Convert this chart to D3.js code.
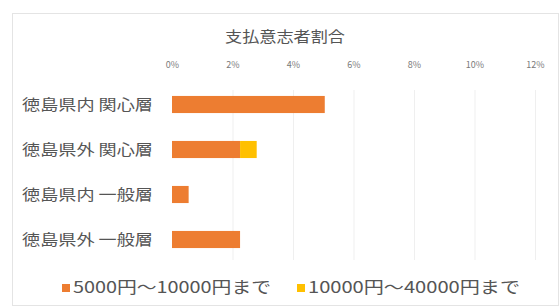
<!DOCTYPE html>
<html><head><meta charset="utf-8">
<script src="https://cdn.jsdelivr.net/npm/d3@7"></script>
<style>body{margin:0;background:#fff}svg{display:block}</style>
</head><body>
<svg id="c" width="559" height="306"></svg>
<script>
const categories = ["徳島県内 関心層","徳島県外 関心層","徳島県内 一般層","徳島県外 一般層"];
const seriesNames = ["5000円～10000円まで","10000円～40000円まで"];
const s1 = [5.05, 2.25, 0.55, 2.25];
const s2 = [0, 0.55, 0, 0];
const tickValues = [0,2,4,6,8,10,12];
const colors = ["#ED7D31","#FFC000"];
const title = "支払意志者割合";

const svg = d3.select("#c");
const font = "'Noto Sans CJK JP','Noto Sans',sans-serif";
svg.append("rect").attr("x",12.5).attr("y",13.5).attr("width",546).attr("height",292)
  .attr("fill","#fff").attr("stroke","#e4e4e4");
const x = d3.scaleLinear().domain([0,12]).range([172,535]);
const y = d3.scaleBand().domain(categories).range([82,262]).paddingInner(0.62).paddingOuter(0.31);

svg.append("text").attr("x",285).attr("y",37).attr("dy","0.35em").attr("text-anchor","middle")
  .attr("font-family",font).attr("font-size",15).attr("fill","#555")
  .attr("textLength",120).attr("lengthAdjust","spacingAndGlyphs").text(title);

const grid = svg.append("g");
grid.selectAll("line").data(tickValues.slice(1)).join("line")
  .attr("x1",d=>x(d)+0.5).attr("x2",d=>x(d)+0.5).attr("y1",90).attr("y2",260)
  .attr("stroke","#efefef");

const ax = svg.append("g").attr("transform","translate(0,71)")
  .call(d3.axisTop(x).tickValues(tickValues).tickFormat(d=>d+"%").tickSize(0));
ax.select(".domain").remove();
ax.selectAll("text").attr("font-family",font).attr("font-size",9).attr("fill","#7a7a7a");

const stack = categories.map((c,i)=>({c, v:[s1[i], s2[i]]}));
stack.forEach(d=>{
  let acc=0;
  d.v.forEach((v,j)=>{
    if(v>0){
      svg.append("rect").attr("x",x(acc)).attr("width",x(acc+v)-x(acc))
        .attr("y",y(d.c)).attr("height",y.bandwidth()).attr("fill",colors[j]);
    }
    acc+=v;
  });
});

svg.append("g").selectAll("text").data(categories).join("text")
  .attr("x",22).attr("y",d=>y(d)+y.bandwidth()/2).attr("dy","0.35em")
  .attr("font-family",font).attr("font-size",15)
  .attr("textLength",131).attr("lengthAdjust","spacingAndGlyphs")
  .attr("fill","#555").text(d=>d);

const lg = svg.append("g");
const lx = [62, 297];
const lw = [198, 212];
seriesNames.forEach((n,i)=>{
  lg.append("rect").attr("x",lx[i]).attr("y",284).attr("width",8).attr("height",8).attr("fill",colors[i]);
  lg.append("text").attr("x",lx[i]+11).attr("y",287).attr("dy","0.35em")
    .attr("font-family",font).attr("font-size",16).attr("fill","#555")
    .attr("textLength",lw[i]).attr("lengthAdjust","spacingAndGlyphs").text(n);
});
</script>
</body></html>
